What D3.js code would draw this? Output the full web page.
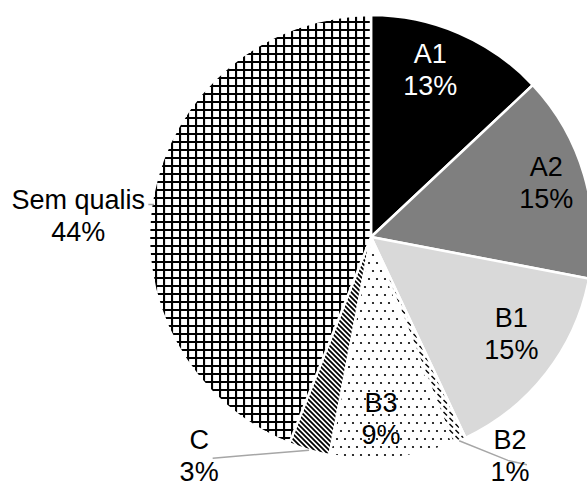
<!DOCTYPE html>
<html><head><meta charset="utf-8">
<script src="https://cdn.jsdelivr.net/npm/d3@7"></script>
<style>body{margin:0;background:#fff;} svg{display:block;}</style>
</head><body>
<svg id="c" width="587" height="487"></svg>
<script>
// ---- data ----
const categories = ["A1","A2","B1","B2","B3","C","Sem qualis"];
const values = [13,15,15,1,9,3,44];
const pctLabels = ["13%","15%","15%","1%","9%","3%","44%"];

// ---- layout / style ----
const cx = 371, cy = 237, R = 222;
const fills = ["#000000","#7f7f7f","#d9d9d9","url(#pDash)","url(#pDots)","url(#pWDiag)","url(#pGrid)"];
const textColors = ["#ffffff","#000","#000","#000","#000","#000","#000"];
// label anchor in polar form (deg clockwise from north, radius px)
const labelPolar = [[20.5,169],[75.6,181],[127.1,176],[148.6,267],[177,191],[217.0,285.6],[272.3,293]];
// leader lines: arrays of polar points (null = none)
const leaders = [null,null,null,
  [[156.6,222],[148.5,262],[145.6,276]],
  null,
  [[196.2,222],[215.6,272]],
  [[278.5,219.5],[278.3,225]]];

const svg = d3.select("#c");
const defs = svg.append("defs");
function pat(id,w,h){
  const p = defs.append("pattern").attr("id",id).attr("patternUnits","userSpaceOnUse")
    .attr("width",w).attr("height",h);
  p.append("rect").attr("width",w).attr("height",h).attr("fill","#fff");
  return p;
}
let p = pat("pGrid",8,8);
p.append("path").attr("d","M1 0V8M0 1H8").attr("stroke","#000").attr("stroke-width",2.2);
p = pat("pWDiag",5,5);
p.append("path").attr("d","M0 0L5 5M4 -1L6 1M-1 4L1 6").attr("stroke","#000").attr("stroke-width",1.8);
p = pat("pDash",6,6);
p.append("path").attr("d","M0.5 1L4 4.5").attr("stroke","#000").attr("stroke-width",1.5);
p = pat("pDots",8,16);
p.append("circle").attr("cx",2).attr("cy",2).attr("r",1.1).attr("fill","#000");
p.append("circle").attr("cx",6).attr("cy",10).attr("r",1.1).attr("fill","#000");

const pie = d3.pie().sort(null).value(d=>d);
const arcs = pie(values);
const arc = d3.arc().innerRadius(0).outerRadius(R);

const g = svg.append("g").attr("transform",`translate(${cx},${cy})`);
g.selectAll("path.slice").data(arcs).join("path").attr("class","slice")
  .attr("d",arc).attr("fill",(d,i)=>fills[i])
  .attr("stroke","#fff").attr("stroke-width",2.5).attr("stroke-linejoin","round");

const pol = ([a,r]) => { const t = a*Math.PI/180; return [r*Math.sin(t), -r*Math.cos(t)]; };

leaders.forEach(l=>{
  if(!l) return;
  g.append("path").attr("d", d3.line()(l.map(pol)))
    .attr("fill","none").attr("stroke","#a6a6a6").attr("stroke-width",1.5);
});

categories.forEach((c,i)=>{
  const [x,y] = pol(labelPolar[i]);
  const t = g.append("text").attr("text-anchor","middle")
    .attr("font-family","'Liberation Sans', Arial, sans-serif").attr("font-size",27)
    .attr("fill",textColors[i]);
  t.append("tspan").attr("x",x).attr("y",y-16).text(c);
  t.append("tspan").attr("x",x).attr("y",y+16).text(pctLabels[i]);
});
</script>
</body></html>
